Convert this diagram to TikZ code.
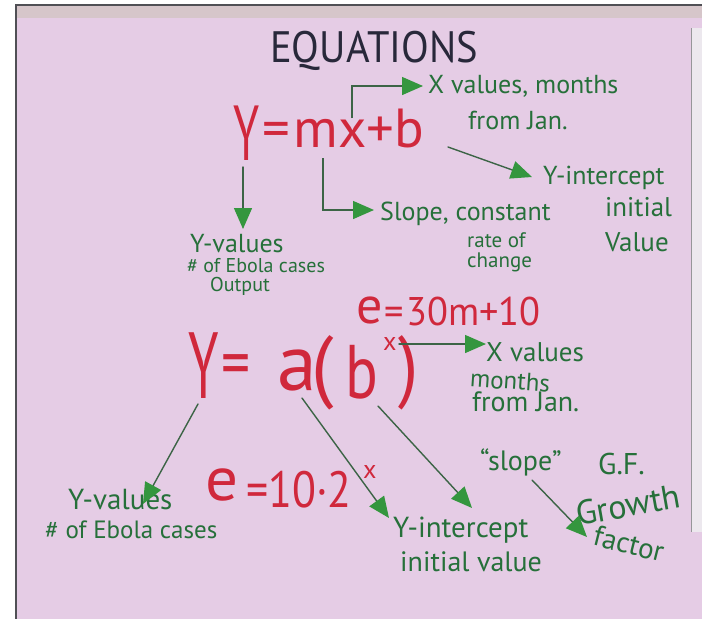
\documentclass[tikz,border=0pt]{standalone}
\usepackage{fontspec}
\setmainfont{PT Sans}
\usetikzlibrary{arrows.meta}
\definecolor{paper}{RGB}{229,204,229}
\definecolor{strip}{RGB}{214,198,202}
\definecolor{frameline}{RGB}{80,80,85}
\definecolor{sidepaper}{RGB}{236,232,238}
\definecolor{ink}{RGB}{40,40,58}
\definecolor{redink}{RGB}{208,40,60}
\definecolor{greenink}{RGB}{38,112,58}
\definecolor{lineink}{RGB}{60,100,70}
\definecolor{headink}{RGB}{52,150,62}
\newcommand{\hs}[3]{\scalebox{#1}[1]{\fontsize{#2}{#2}\selectfont #3}}
\tikzset{
  lbl/.style={text=greenink, inner sep=0pt, anchor=west},
  eqn/.style={text=redink, inner sep=0pt, anchor=base west},
  con/.style={draw=lineink, line width=1.4pt, line cap=round,
    -{Triangle[length=21pt,width=18pt,color=headink]}},
  elbow/.style={draw=lineink, line width=1.4pt,
    -{Triangle[length=21pt,width=18pt,color=headink]}}
}
\begin{document}
\begin{tikzpicture}[x=1pt,y=-1pt]
\useasboundingbox (0,0) rectangle (702,619);
% background
\fill[white] (0,0) rectangle (702,619);
\fill[strip] (16,5) rectangle (702,18);
\fill[paper] (16,18) rectangle (702,619);
\fill[sidepaper] (691,28) rectangle (702,532);
\draw[frameline!60, line width=0.8pt] (691,28) -- (691,532);
\draw[frameline, line width=1.2pt] (702,5) -- (16,5) -- (16,619);

% title
\node[text=ink, inner sep=0pt] (title) at (374,51) {\hs{0.92}{44}{EQUATIONS}};

% equation 1 : y = mx + b
\node[eqn] (eY1) at (233,160) {\hs{0.6}{78}{Y}};
\node[eqn] (eq1) at (262,147) {\hs{1}{55}{=\kern4pt mx+b}};

% equation 1 labels
\node[lbl] (xval1) at (428,86) {\hs{1}{26}{X values, months}};
\node[lbl] (jan1) at (468,120) {\hs{1}{26}{from Jan.}};
\node[lbl] (yint1) at (543,178) {\hs{1}{26}{Y-intercept}};
\node[lbl] (init1) at (605,207) {\hs{1}{27}{initial}};
\node[lbl] (val1) at (605,242) {\hs{1}{27}{Value}};
\node[lbl] (slope1) at (380,214) {\hs{1}{26}{Slope, constant}};
\node[lbl] (rate1) at (467,240) {\hs{1}{21}{rate of}};
\node[lbl] (chg1) at (467,262) {\hs{1}{21}{change}};
\node[lbl] (yv1) at (190,244) {\hs{1}{26}{Y-values}};
\node[lbl] (eb1l) at (187,266) {\hs{1}{20}{\# of Ebola cases}};
\node[lbl] (out1) at (210,286) {\hs{1}{20}{Output}};

% equation 1 connectors
\coordinate (c1a) at (352,118);
\coordinate (c1b) at (423,86);
\draw[elbow] (c1a) |- (c1b);
\coordinate (c2a) at (243,167);
\coordinate (c2b) at (243,229);
\draw[con] (c2a) -- (c2b);
\coordinate (c3a) at (323,158);
\coordinate (c3b) at (374,210);
\draw[elbow] (c3a) |- (c3b);
\coordinate (c4a) at (448,147);
\coordinate (c4b) at (532,177);
\draw[con] (c4a) -- (c4b);

% equation e = 30m + 10
\node[eqn] (e30e) at (356,323) {\hs{1}{52}{e}};
\node[eqn] (e30) at (384,325) {\hs{0.96}{40}{=\kern3pt 30m+10}};

% equation 2 : y = a(b^x)
\node[eqn] (eY2) at (188,398) {\hs{0.58}{94}{Y}};
\node[eqn] (eE2) at (221,387) {\hs{0.8}{72}{=}};
\node[eqn] (ea2) at (277,390) {\hs{1}{80}{a}};
\node[eqn] (eo2) at (311,392) {\hs{1}{80}{(}};
\node[eqn] (eb2) at (345,398) {\hs{0.8}{76}{b}};
\node[eqn] (esup) at (383,350) {\hs{1}{26}{x}};
\node[eqn] (ec2) at (398,392) {\hs{0.9}{80}{)}};

% equation 2 labels
\node[lbl] (xval2) at (486,352) {\hs{1}{27}{X values}};
\node[lbl, rotate=-4] (mon2) at (470,378) {\hs{1}{25}{months}};
\node[lbl] (jan2) at (472,402) {\hs{1}{28}{from Jan.}};
\node[lbl] (slq) at (480,462) {\hs{1}{28}{“slope”}};
\node[lbl] (gf) at (598,464) {\hs{1}{30}{G.F.}};
\node[lbl] (yv2) at (68,500) {\hs{1}{29}{Y-values}};
\node[lbl] (eb2l) at (45,530) {\hs{1}{25}{\# of Ebola cases}};
\node[lbl] (yint2) at (393,530) {\hs{1}{29}{Y-intercept}};
\node[lbl] (iv2) at (400,562) {\hs{1}{28}{initial value}};
\node[lbl, rotate=10] (gro) at (576,514) {\hs{1}{34}{Growth}};
\node[lbl, rotate=-14] (fac) at (594,535) {\hs{1}{29}{factor}};

% equation e = 10.2^x
\node[eqn] (e10e) at (205,500) {\hs{1.05}{62}{e}};
\node[eqn] (e10) at (246,507) {\hs{0.86}{51}{=10·2}};
\node[eqn] (e10x) at (363,478) {\hs{1}{26}{x}};

% equation 2 connectors
\coordinate (d1a) at (399,344);
\coordinate (d1b) at (486,344);
\draw[con] (d1a) -- (d1b);
\coordinate (d2a) at (198,404);
\coordinate (d2b) at (143,504);
\draw[con] (d2a) -- (d2b);
\coordinate (d3a) at (302,398);
\coordinate (d3b) at (389,518);
\draw[con] (d3a) -- (d3b);
\coordinate (d4a) at (378,406);
\coordinate (d4b) at (472,508);
\draw[con] (d4a) -- (d4b);
\coordinate (d5a) at (532,480);
\coordinate (d5b) at (587,537);
\draw[con] (d5a) -- (d5b);
\end{tikzpicture}
\end{document}
